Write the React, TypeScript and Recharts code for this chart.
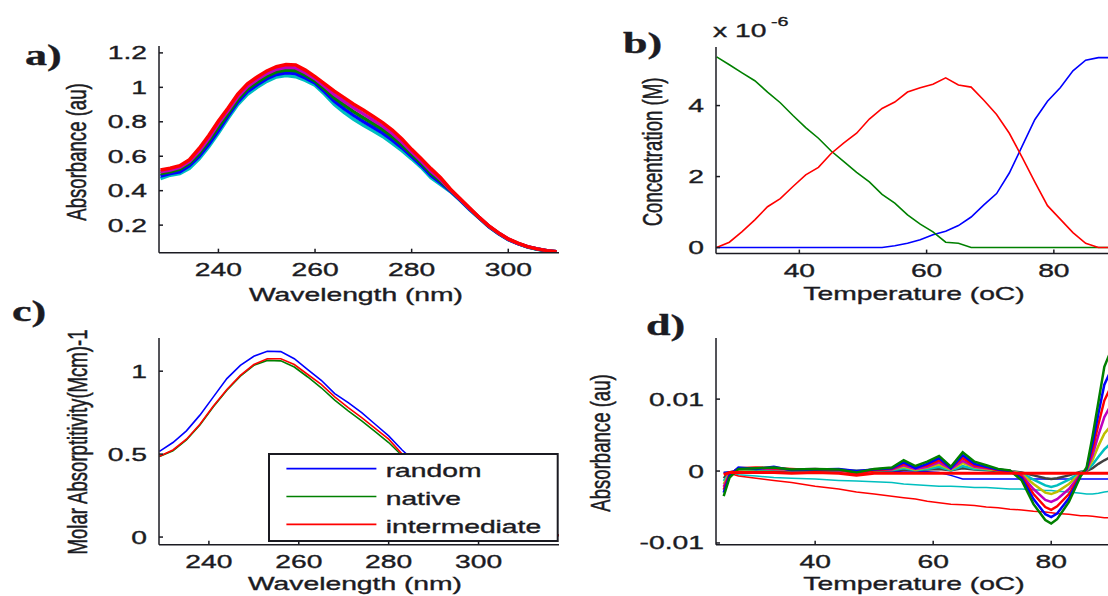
import { Legend, Line, LineChart, XAxis, YAxis } from "recharts";

const W = 1108;
const H = 596;
const SX = 1.52; // the whole figure is stretched horizontally
const FONT = "'Liberation Sans', Arial, Helvetica, sans-serif";
const SERIF = "'Liberation Serif', 'Times New Roman', serif";
const INK = "#1b1b22";
const FS = 18.6;
const TICK = 4;

const BLUE = "#0000ff";
const GREEN = "#008000";
const RED = "#ff0000";
const CYAN = "#00bfbf";
const MAGENTA = "#bf00bf";
const YELLOW = "#bfbf00";
const DARK = "#404040";

// a) absorbance spectra at increasing temperature
const wavelengthsA = [
  228, 230, 232, 234, 236, 238, 240, 242, 244, 246, 248, 250, 252, 254, 256, 258, 260, 262, 264, 266, 268,
  270, 272, 274, 276, 278, 280, 282, 284, 286, 288, 290, 292, 294, 296, 298, 300, 302, 304, 306, 308, 310,
];
const specTop = [
  0.52, 0.53, 0.545, 0.58, 0.645, 0.72, 0.805, 0.88, 0.96, 1.02, 1.06, 1.095, 1.12, 1.132, 1.13, 1.1, 1.062,
  1.02, 0.978, 0.94, 0.902, 0.868, 0.832, 0.795, 0.752, 0.7, 0.64, 0.585, 0.528, 0.475, 0.41, 0.355, 0.3,
  0.245, 0.195, 0.155, 0.12, 0.095, 0.075, 0.062, 0.052, 0.046,
];
const specUpper = [
  0.51, 0.52, 0.535, 0.57, 0.63, 0.705, 0.79, 0.865, 0.945, 1.005, 1.045, 1.08, 1.105, 1.117, 1.113, 1.085,
  1.05, 1.005, 0.958, 0.919, 0.881, 0.846, 0.811, 0.775, 0.733, 0.683, 0.626, 0.572, 0.515, 0.465, 0.406,
  0.352, 0.297, 0.244, 0.194, 0.154, 0.119, 0.094, 0.075, 0.062, 0.052, 0.046,
];
const specMid = [
  0.5, 0.51, 0.525, 0.56, 0.615, 0.69, 0.77, 0.85, 0.93, 0.99, 1.03, 1.065, 1.09, 1.1, 1.097, 1.07, 1.037,
  0.99, 0.939, 0.898, 0.859, 0.824, 0.79, 0.755, 0.714, 0.666, 0.612, 0.56, 0.502, 0.455, 0.402, 0.35, 0.295,
  0.243, 0.193, 0.153, 0.118, 0.094, 0.074, 0.061, 0.051, 0.046,
];
const specLower = [
  0.485, 0.5, 0.51, 0.545, 0.6, 0.67, 0.75, 0.835, 0.915, 0.975, 1.015, 1.05, 1.075, 1.085, 1.08, 1.055,
  1.025, 0.975, 0.92, 0.876, 0.837, 0.802, 0.769, 0.735, 0.694, 0.649, 0.599, 0.547, 0.488, 0.445, 0.399,
  0.348, 0.292, 0.241, 0.191, 0.151, 0.117, 0.093, 0.074, 0.061, 0.051, 0.045,
];
const specBottom = [
  0.47, 0.49, 0.5, 0.53, 0.585, 0.655, 0.735, 0.82, 0.9, 0.96, 1.0, 1.035, 1.06, 1.068, 1.062, 1.04, 1.012,
  0.96, 0.9, 0.855, 0.815, 0.78, 0.748, 0.715, 0.675, 0.632, 0.585, 0.535, 0.475, 0.435, 0.395, 0.345, 0.29,
  0.24, 0.19, 0.15, 0.116, 0.092, 0.073, 0.06, 0.05, 0.045,
];
const ticksWl = [240, 260, 280, 300];
const ticksA = [0.2, 0.4, 0.6, 0.8, 1, 1.2];

// b) concentrations (x 1e-6 M)
const tempsB = [27, 29, 31, 33, 35, 37, 39, 41, 43, 45, 47, 49, 51, 53, 55, 57, 59, 61, 63, 65, 67, 69, 71, 73, 75, 77, 79, 81, 83, 85, 87, 89];
const concNative = [
  5.37, 5.15, 4.92, 4.7, 4.38, 4.08, 3.72, 3.38, 3.08, 2.72, 2.42, 2.12, 1.85, 1.5, 1.25, 0.92, 0.66, 0.44,
  0.15, 0.12, 0, 0, 0, 0, 0, 0, 0, 0, 0, 0, 0, 0,
];
const concIntermediate = [
  0, 0.15, 0.45, 0.78, 1.15, 1.38, 1.72, 2.05, 2.26, 2.65, 2.95, 3.22, 3.62, 3.92, 4.1, 4.38, 4.5, 4.6, 4.78,
  4.58, 4.52, 4.15, 3.75, 3.22, 2.55, 1.85, 1.18, 0.8, 0.42, 0.12, 0, 0,
];
const concRandom = [
  0, 0, 0, 0, 0, 0, 0, 0, 0, 0, 0, 0, 0, 0, 0.05, 0.12, 0.22, 0.36, 0.46, 0.62, 0.86, 1.2, 1.52, 2.1, 2.85,
  3.6, 4.12, 4.5, 4.98, 5.28, 5.35, 5.35,
];
const ticksTempB = [40, 60, 80];
const ticksB = [0, 2, 4];

// c) pure component spectra
const wavelengthsC = [229, 232, 235, 238, 241, 244, 247, 250, 253, 256, 259, 262, 265, 268, 271, 274, 277, 280, 283, 286, 290, 295, 300, 305, 310, 318];
const molRandom = [
  0.517, 0.57, 0.64, 0.735, 0.845, 0.955, 1.035, 1.09, 1.12, 1.118, 1.075, 1.01, 0.945, 0.865, 0.81, 0.75,
  0.68, 0.61, 0.525, 0.45, 0.35, 0.22, 0.12, 0.06, 0.03, 0.01,
];
const molNative = [
  0.485, 0.52, 0.585, 0.675, 0.785, 0.885, 0.97, 1.035, 1.065, 1.062, 1.025, 0.965, 0.9, 0.825, 0.76, 0.7,
  0.635, 0.57, 0.49, 0.42, 0.32, 0.19, 0.1, 0.05, 0.025, 0.01,
];
const molIntermediate = [
  0.487, 0.525, 0.59, 0.68, 0.79, 0.89, 0.975, 1.04, 1.075, 1.075, 1.04, 0.98, 0.92, 0.845, 0.78, 0.72,
  0.655, 0.59, 0.5, 0.43, 0.33, 0.2, 0.11, 0.05, 0.025, 0.01,
];
const legendNames = ["random", "native", "intermediate"];
const ticksC = [0, 0.5, 1];

// d) absorbance vs temperature per wavelength (x 1e-3 au)
const tempsD = [24.5, 25.5, 27, 30, 33, 36, 40, 44, 47, 50, 53, 55, 57, 59, 61, 63, 65, 67, 69, 71, 73, 75, 77, 79, 80, 81, 83, 85, 86, 87, 88, 89, 90];
const dGreen = [-3.5, -0.9, 0.3, 0.4, 0.5, 0.2, 0.3, 0.2, -0.2, 0.3, 0.5, 1.5, 0.7, 1.3, 2.1, 0.6, 2.6, 1.3, 0.8, 0.3, 0.1, -1.3, -4.6, -6.8, -7.3, -6.7, -4.3, -0.7, 0.5, 4.8, 9.6, 14.5, 16.5];
const dBlue = [-3.0, -0.6, 0.5, 0.3, 0.6, 0.1, 0.2, 0.3, 0.0, 0.2, 0.4, 1.2, 0.4, 1.0, 1.8, 0.4, 2.2, 1.0, 0.6, 0.2, 0.0, -1.0, -3.9, -6.0, -6.4, -5.9, -3.8, -0.6, 0.3, 3.8, 8.0, 12.0, 13.8];
const dRed = [-2.6, -0.5, 0.4, 0.5, 0.4, 0.3, 0.1, 0.2, -0.4, 0.1, 0.3, 1.0, 0.5, 0.8, 1.5, 0.5, 1.8, 0.8, 0.5, 0.1, -0.1, -0.8, -3.2, -5.0, -5.4, -4.9, -3.2, -0.5, 0.2, 3.0, 6.5, 9.8, 11.5];
const dMagenta = [-2.2, -0.4, 0.3, 0.4, 0.3, 0.2, 0.3, 0.1, -0.1, 0.2, 0.2, 0.8, 0.3, 0.6, 1.2, 0.3, 1.4, 0.6, 0.4, 0.2, 0.0, -0.6, -2.5, -4.0, -4.3, -3.9, -2.5, -0.4, 0.2, 2.2, 5.0, 7.5, 9.0];
const dYellow = [-1.8, -0.3, 0.2, 0.3, 0.3, 0.1, 0.2, 0.2, 0.0, 0.1, 0.2, 0.6, 0.2, 0.5, 0.9, 0.2, 1.1, 0.5, 0.3, 0.1, 0.0, -0.4, -1.8, -3.0, -3.2, -2.9, -1.8, -0.3, 0.1, 1.5, 3.5, 5.2, 6.2];
const dCyan = [-1.4, -0.3, 0.2, 0.2, 0.2, 0.1, 0.1, 0.1, 0.0, 0.1, 0.1, 0.4, 0.1, 0.3, 0.6, 0.1, 0.7, 0.3, 0.2, 0.1, 0.0, -0.3, -1.2, -2.0, -2.2, -2.0, -1.2, -0.2, 0.1, 0.9, 2.0, 3.0, 3.8];
const dDark = [-1.0, -0.2, 0.1, 0.1, 0.1, 0.0, 0.1, 0.0, 0.0, 0.0, 0.1, 0.2, 0.1, 0.2, 0.3, 0.1, 0.4, 0.2, 0.1, 0.0, 0.0, -0.2, -0.6, -1.0, -1.1, -1.0, -0.6, -0.1, 0.0, 0.4, 1.0, 1.5, 1.9];
const dBaseRed = [-0.5, -0.2, -0.2, -0.2, -0.2, -0.3, -0.2, -0.3, -0.6, -0.3, -0.3, -0.3, -0.3, -0.3, -0.3, -0.3, -0.3, -0.3, -0.3, -0.3, -0.3, -0.3, -0.3, -0.3, -0.3, -0.3, -0.3, -0.3, -0.3, -0.3, -0.3, -0.3, -0.3];
const dFlatBlue = [-0.2, -0.1, 0.0, 0.0, -0.1, 0.0, 0.0, -0.1, 0.0, 0.0, -0.1, 0.0, 0.0, -0.1, -0.2, -0.6, -1.1, -1.1, -1.1, -1.1, -1.1, -1.1, -1.1, -1.1, -1.1, -1.1, -1.1, -1.1, -1.1, -1.1, -1.1, -1.1, -1.1];
const driftCyan = [-0.2, -0.1, -0.5, -0.7, -0.9, -1.0, -1.1, -1.3, -1.4, -1.5, -1.6, -1.8, -1.9, -2.0, -2.1, -2.1, -2.2, -2.3, -2.3, -2.4, -2.5, -2.5, -2.6, -2.7, -2.7, -2.8, -2.9, -3.1, -3.2, -3.2, -3.1, -2.9, -2.8];
const driftRed = [-0.2, -0.3, -0.7, -1.0, -1.3, -1.6, -2.1, -2.5, -2.9, -3.2, -3.5, -3.7, -3.9, -4.2, -4.4, -4.6, -4.7, -4.8, -5.0, -5.1, -5.3, -5.4, -5.6, -5.7, -5.8, -5.9, -6.0, -6.2, -6.2, -6.3, -6.4, -6.5, -6.5];
const ticksTempD = [40, 60, 80];
const ticksD = [-10, 0, 10];

const rowsA = wavelengthsA.map((wl, i) => ({
  wl,
  bottom: specBottom[i],
  lower: specLower[i],
  mid: specMid[i],
  upper: specUpper[i],
  top: specTop[i],
}));
const rowsB = tempsB.map((t, i) => ({ t, random: concRandom[i], native: concNative[i], intermediate: concIntermediate[i] }));
const rowsC = wavelengthsC.map((wl, i) => ({ wl, random: molRandom[i], native: molNative[i], intermediate: molIntermediate[i] }));
const rowsD = tempsD.map((t, i) => ({
  t,
  driftCyan: driftCyan[i],
  driftRed: driftRed[i],
  flatBlue: dFlatBlue[i],
  dark: dDark[i],
  cyan: dCyan[i],
  yellow: dYellow[i],
  magenta: dMagenta[i],
  red: dRed[i],
  blue: dBlue[i],
  green: dGreen[i],
  baseRed: dBaseRed[i],
}));

const seriesA = [
  { key: "bottom", color: CYAN },
  { key: "lower", color: BLUE },
  { key: "mid", color: GREEN },
  { key: "upper", color: MAGENTA },
  { key: "top", color: RED },
];
const seriesD = [
  { key: "driftCyan", color: CYAN, w: 1.5 },
  { key: "driftRed", color: RED, w: 1.5 },
  { key: "flatBlue", color: BLUE, w: 1.5 },
  { key: "dark", color: DARK, w: 2.5 },
  { key: "cyan", color: CYAN, w: 2.5 },
  { key: "yellow", color: YELLOW, w: 2.5 },
  { key: "magenta", color: MAGENTA, w: 2.5 },
  { key: "red", color: RED, w: 2.5 },
  { key: "blue", color: BLUE, w: 2.5 },
  { key: "green", color: GREEN, w: 2.5 },
  { key: "baseRed", color: RED, w: 3 },
];

type Box = { x0: number; y0: number; x1: number; y1: number };
const boxA: Box = { x0: 159, y0: 46, x1: 559, y1: 252.7 };
const boxB: Box = { x0: 715.6, y0: 46.7, x1: 1112, y1: 253.3 };
const boxC: Box = { x0: 159, y0: 338.3, x1: 559, y1: 545 };
const boxD: Box = { x0: 716, y0: 338.3, x1: 1112, y1: 545 };

const PAD_L = 100;
const PAD_T = 10;
const PAD_R = 10;
const PAD_B = 40;

function StretchText({
  x,
  y,
  children,
  anchor = "middle",
  size = FS,
  family = FONT,
  weight = "normal",
  rotate = false,
}: {
  x: number;
  y: number;
  children: React.ReactNode;
  anchor?: "start" | "middle" | "end";
  size?: number;
  family?: string;
  weight?: string;
  rotate?: boolean;
}) {
  return (
    <text
      transform={`translate(${x},${y}) scale(${SX},1)${rotate ? " rotate(-90)" : ""}`}
      textAnchor={anchor}
      fontSize={size}
      fontFamily={family}
      fontWeight={weight}
      fill={INK}
      stroke={INK}
      strokeWidth={0.35}
    >
      {children}
    </text>
  );
}

const plain = (v: number) => String(v);
const milli = (v: number) => (v === 0 ? "0" : String(v / 1000));

const xTick = (fmt: (v: number) => string) => (p: any) => (
  <StretchText x={p.x} y={p.y}>{fmt(p.payload.value)}</StretchText>
);
const yTick = (fmt: (v: number) => string) => (p: any) => (
  <StretchText x={p.x} y={p.y + 6.5} anchor="end">
    {fmt(p.payload.value)}
  </StretchText>
);
const noTick = () => <g />;

// matlab style box: inward ticks on all four sides
function frame(
  xKey: string,
  xDomain: [number, number],
  xTicks: number[],
  yDomain: [number, number],
  yTicks: number[],
  yFmt: (v: number) => string,
) {
  const stroke = { stroke: INK, strokeWidth: 1.5 };
  return [
    <XAxis key="xb" dataKey={xKey} type="number" domain={xDomain} allowDataOverflow ticks={xTicks} interval={0}
      height={PAD_B} tickSize={-TICK} tickMargin={TICK + 23} axisLine={stroke} tickLine={stroke} tick={xTick(plain)} />,
    <XAxis key="xt" xAxisId="top" orientation="top" dataKey={xKey} type="number" domain={xDomain} allowDataOverflow
      ticks={xTicks} interval={0} height={0} tickSize={-TICK} axisLine={stroke} tickLine={stroke} tick={noTick} />,
    <YAxis key="yl" type="number" domain={yDomain} allowDataOverflow ticks={yTicks} interval={0} width={PAD_L}
      tickSize={-TICK} tickMargin={TICK + 12} axisLine={stroke} tickLine={stroke} tick={yTick(yFmt)} />,
    <YAxis key="yr" yAxisId="right" orientation="right" type="number" domain={yDomain} allowDataOverflow ticks={yTicks}
      interval={0} width={0} tickSize={-TICK} axisLine={stroke} tickLine={stroke} tick={noTick} />,
  ];
}

const chartSize = (b: Box) => ({ width: b.x1 - b.x0 + PAD_L + PAD_R, height: b.y1 - b.y0 + PAD_T + PAD_B });
const chartPos = (b: Box) => ({ position: "absolute" as const, left: b.x0 - PAD_L, top: b.y0 - PAD_T });
const margin = { top: PAD_T, right: PAD_R, bottom: 0, left: 0 };

const LEG = { x: 268.3, y: 452.7, w: 290.7, h: 89 };

function BoxLegend({ payload }: any) {
  const items = [...(payload ?? [])].sort(
    (a: any, b: any) => legendNames.indexOf(a.value) - legendNames.indexOf(b.value),
  );
  return (
    <svg width={LEG.w} height={LEG.h} style={{ display: "block" }}>
      <rect x={1} y={1} width={LEG.w - 2} height={LEG.h - 2} fill="#fff" stroke={INK} strokeWidth={2} />
      {items.map((item: any, i: number) => (
        <g key={item.value}>
          <line x1={18.4} x2={108.4} y1={15.6 + i * 27.9} y2={15.6 + i * 27.9} stroke={item.color} strokeWidth={1.6} />
          <StretchText x={117.7} y={24.2 + i * 27.9} anchor="start">
            {item.value}
          </StretchText>
        </g>
      ))}
    </svg>
  );
}

export default function App() {
  return (
    <div style={{ position: "absolute", left: 0, top: 0, width: W, height: H, overflow: "hidden", background: "#fff" }}>
      <div style={chartPos(boxA)}>
        <LineChart {...chartSize(boxA)} data={rowsA} margin={margin}>
          {frame("wl", [227.7, 310.5], ticksWl, [0.04, 1.24], ticksA, plain)}
          {seriesA.map((s) => (
            <Line key={s.key} type="linear" dataKey={s.key} stroke={s.color} strokeWidth={3.5} dot={false} isAnimationActive={false} />
          ))}
        </LineChart>
      </div>

      <div style={chartPos(boxB)}>
        <LineChart {...chartSize(boxB)} data={rowsB} margin={margin}>
          {frame("t", [26.9, 89.2], ticksTempB, [-0.17, 5.65], ticksB, plain)}
          <Line type="linear" dataKey="random" stroke={BLUE} strokeWidth={1.6} dot={false} isAnimationActive={false} />
          <Line type="linear" dataKey="native" stroke={GREEN} strokeWidth={1.6} dot={false} isAnimationActive={false} />
          <Line type="linear" dataKey="intermediate" stroke={RED} strokeWidth={1.6} dot={false} isAnimationActive={false} />
        </LineChart>
      </div>

      <div style={chartPos(boxC)}>
        <LineChart {...chartSize(boxC)} data={rowsC} margin={margin}>
          {frame("wl", [228.9, 317.9], ticksWl, [-0.046, 1.2], ticksC, plain)}
          <Line type="linear" dataKey="random" name="random" stroke={BLUE} strokeWidth={1.6} dot={false} isAnimationActive={false} />
          <Line type="linear" dataKey="native" name="native" stroke={GREEN} strokeWidth={1.6} dot={false} isAnimationActive={false} />
          <Line type="linear" dataKey="intermediate" name="intermediate" stroke={RED} strokeWidth={1.6} dot={false} isAnimationActive={false} />
          <Legend
            layout="horizontal"
            verticalAlign="middle"
            align="center"
            content={<BoxLegend />}
            wrapperStyle={{
              left: LEG.x - (boxC.x0 - PAD_L),
              top: LEG.y - (boxC.y0 - PAD_T),
              width: LEG.w,
              height: LEG.h,
              margin: 0,
              padding: 0,
            }}
          />
        </LineChart>
      </div>

      <div style={chartPos(boxD)}>
        <LineChart {...chartSize(boxD)} data={rowsD} margin={margin}>
          {frame("t", [23.2, 90.3], ticksTempD, [-10.24, 18.5], ticksD, milli)}
          {seriesD.map((s) => (
            <Line key={s.key} type="linear" dataKey={s.key} stroke={s.color} strokeWidth={s.w} dot={false} isAnimationActive={false} />
          ))}
        </LineChart>
      </div>

      <svg width={W} height={H} style={{ position: "absolute", left: 0, top: 0, pointerEvents: "none" }}>
        <StretchText x={25} y={65} anchor="start" size={29} family={SERIF} weight="bold">a)</StretchText>
        <StretchText x={623} y={53} anchor="start" size={29} family={SERIF} weight="bold">b)</StretchText>
        <StretchText x={12} y={321} anchor="start" size={29} family={SERIF} weight="bold">c)</StretchText>
        <StretchText x={646} y={335} anchor="start" size={29} family={SERIF} weight="bold">d)</StretchText>

        <StretchText x={356} y={301}>Wavelength (nm)</StretchText>
        <StretchText x={914} y={300}>Temperature (oC)</StretchText>
        <StretchText x={355} y={590}>Wavelength (nm)</StretchText>
        <StretchText x={914} y={590}>Temperature (oC)</StretchText>

        <StretchText x={86} y={152} rotate>Absorbance (au)</StretchText>
        <StretchText x={662} y={152} rotate>Concentration (M)</StretchText>
        <StretchText x={87} y={442} rotate>Molar Absorptitivity(Mcm)-1</StretchText>
        <StretchText x={610} y={443} rotate>Absorbance (au)</StretchText>

        <StretchText x={713} y={36.7} anchor="start">x 10</StretchText>
        <StretchText x={771} y={26} anchor="start" size={13}>-6</StretchText>
      </svg>
    </div>
  );
}
